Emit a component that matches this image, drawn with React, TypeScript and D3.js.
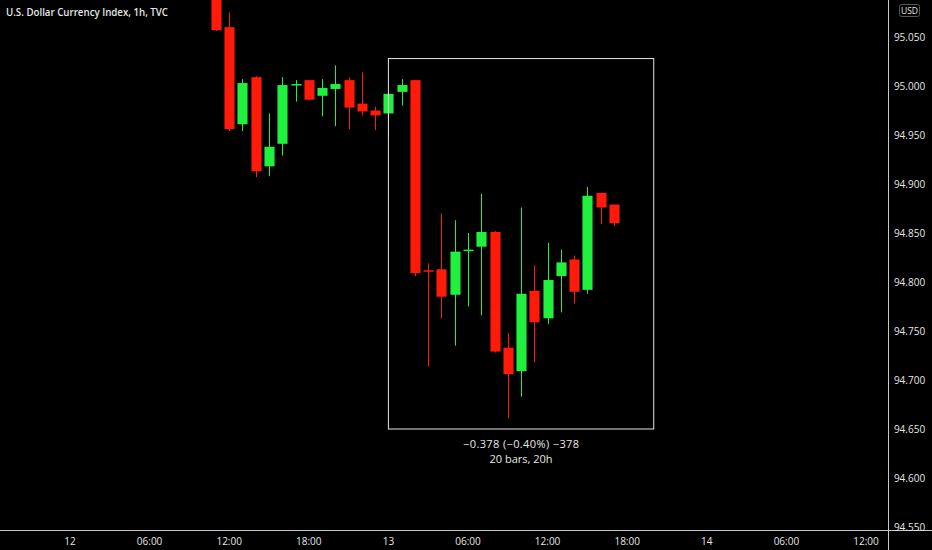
import React from "react";
import * as d3 from "d3";

const W = 932;
const H = 550;

// bar hour index (hours since day 12 00:00)
const hours = [11,12,13,14,15,16,17,18,19,20,21,22,23,24,25,26,27,28,29,30,31,32,33,34,35,36,37,38,39,40,41];
const opens = [95.100,95.060,94.961,95.009,94.918,94.941,95.001,95.006,94.990,94.997,95.006,94.982,94.975,94.972,94.994,95.006,94.812,94.813,94.787,94.832,94.836,94.851,94.733,94.709,94.791,94.763,94.806,94.823,94.792,94.891,94.879];
const highs = [95.100,95.075,95.007,95.010,94.972,95.009,95.006,95.006,95.007,95.021,95.009,95.014,94.979,94.993,95.007,95.006,94.819,94.870,94.863,94.850,94.890,94.852,94.748,94.876,94.817,94.840,94.833,94.827,94.897,94.891,94.879];
const lows = [95.056,94.954,94.954,94.907,94.908,94.929,94.984,94.986,94.969,94.959,94.956,94.970,94.955,94.948,94.980,94.806,94.714,94.763,94.735,94.775,94.766,94.728,94.661,94.683,94.718,94.757,94.769,94.778,94.788,94.859,94.857];
const closes = [95.057,94.956,95.003,94.913,94.938,95.001,95.002,94.986,94.998,95.002,94.978,94.974,94.970,94.992,95.001,94.809,94.811,94.785,94.831,94.833,94.851,94.729,94.706,94.788,94.759,94.802,94.820,94.790,94.888,94.876,94.860];

const xTickHours = [0, 6, 12, 18, 24, 30, 36, 42, 48, 54, 60];
const xTickLabels = ["12", "06:00", "12:00", "18:00", "13", "06:00", "12:00", "18:00", "14", "06:00", "12:00"];
const yTicks = [95.05, 95.0, 94.95, 94.9, 94.85, 94.8, 94.75, 94.7, 94.65, 94.6, 94.55];

// measurement box: start/end hour, top/bottom price
const measureHours = [24, 44];
const measurePrices = [95.028, 94.65];
const measureLines = ["\u22120.378 (\u22120.40%) \u2212378", "20 bars, 20h"];

const title = "U.S. Dollar Currency Index, 1h, TVC";

const RED = "#ff1a0a";
const GREEN = "#22f03e";
const AXIS = "#c8c8c8";
const TEXT = "#e6e6e6";
const FONT = "'Open Sans', 'DejaVu Sans', sans-serif";

export default function App() {
  const plotRight = 888;
  const plotBottom = 530;
  const x = d3.scaleLinear().domain([0, 60]).range([70, 866]);
  const y = d3.scaleLinear().domain([94.55, 95.05]).range([527, 37]);
  const step = x(1) - x(0);
  const bw = step * 0.76;

  const bars = hours.map((h, i) => ({ h, o: opens[i], hi: highs[i], lo: lows[i], c: closes[i] }));

  const bx0 = x(measureHours[0]);
  const bx1 = x(measureHours[1]);
  const by0 = y(measurePrices[0]);
  const by1 = y(measurePrices[1]);
  const bcx = (bx0 + bx1) / 2;

  return (
    <svg
      width={W}
      height={H}
      style={{ position: "fixed", left: 0, top: 0, background: "#000", display: "block" }}
    >
      <rect x={0} y={0} width={W} height={H} fill="#000" />
      <defs>
        <clipPath id="plot">
          <rect x={0} y={0} width={plotRight} height={plotBottom} />
        </clipPath>
      </defs>
      <g clipPath="url(#plot)">
        {bars.map((b, i) => {
          const up = b.c >= b.o;
          const col = up ? GREEN : RED;
          const cx = Math.round(x(b.h)) + 0.5;
          const top = y(Math.max(b.o, b.c));
          const bot = y(Math.min(b.o, b.c));
          return (
            <g key={i}>
              <line x1={cx} x2={cx} y1={y(b.hi)} y2={y(b.lo)} stroke={col} strokeWidth={1} />
              <rect x={cx - bw / 2} y={top} width={bw} height={Math.max(1.5, bot - top)} fill={col} />
            </g>
          );
        })}
        <rect
          x={bx0}
          y={by0}
          width={bx1 - bx0}
          height={by1 - by0}
          fill="none"
          stroke={TEXT}
          strokeWidth={1}
        />
      </g>
      <text x={bcx} y={by1 + 19} fill={TEXT} fontFamily={FONT} fontSize={11} textAnchor="middle"
        textLength={116} lengthAdjust="spacing">
        {measureLines[0]}
      </text>
      <text x={bcx} y={by1 + 33.5} fill={TEXT} fontFamily={FONT} fontSize={11} textAnchor="middle">
        {measureLines[1]}
      </text>

      <text x={6} y={16} fill={TEXT} fontFamily={FONT} fontSize={10.5} fontWeight={600}
        textLength={162} lengthAdjust="spacingAndGlyphs">
        {title}
      </text>

      {/* axes lines */}
      <line x1={0} x2={W} y1={plotBottom + 0.5} y2={plotBottom + 0.5} stroke={AXIS} strokeWidth={1} />
      <line x1={plotRight + 0.5} x2={plotRight + 0.5} y1={0} y2={H} stroke={AXIS} strokeWidth={1} />

      {/* y axis labels */}
      {yTicks.map((t, i) => (
        <text key={i} x={909.5} y={y(t) + 3.5} fill={TEXT} fontFamily={FONT} fontSize={10} textAnchor="middle">
          {d3.format(".3f")(t)}
        </text>
      ))}

      {/* x axis labels */}
      {xTickHours.map((h, i) => (
        <text key={i} x={x(h)} y={544.5} fill={TEXT} fontFamily={FONT} fontSize={10} textAnchor="middle">
          {xTickLabels[i]}
        </text>
      ))}

      {/* currency badge */}
      <rect x={899.5} y={4.5} width={20} height={12} rx={2} fill="#000" stroke="#555" strokeWidth={1} />
      <text x={909.5} y={13.8} fill={TEXT} fontFamily={FONT} fontSize={8.5} textAnchor="middle">USD</text>
    </svg>
  );
}
